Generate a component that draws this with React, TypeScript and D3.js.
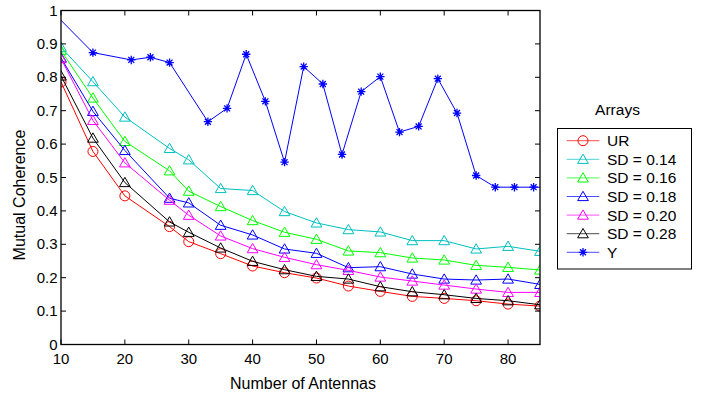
import React from 'react';
import * as d3 from 'd3';

// antenna counts used by the SD / UR arrays
const antennas = [10, 15, 20, 27, 30, 35, 40, 45, 50, 55, 60, 65, 70, 75, 80, 85];

const urValues = [0.786, 0.578, 0.445, 0.353, 0.308, 0.272, 0.235, 0.215, 0.199, 0.175, 0.159, 0.144, 0.138, 0.131, 0.121, 0.115];
const sd14Values = [0.89, 0.787, 0.681, 0.587, 0.553, 0.467, 0.461, 0.398, 0.364, 0.344, 0.337, 0.311, 0.311, 0.286, 0.294, 0.279];
const sd16Values = [0.88, 0.738, 0.608, 0.52, 0.459, 0.413, 0.371, 0.336, 0.315, 0.28, 0.275, 0.259, 0.253, 0.237, 0.231, 0.223];
const sd18Values = [0.858, 0.698, 0.581, 0.438, 0.424, 0.357, 0.328, 0.286, 0.273, 0.23, 0.233, 0.211, 0.196, 0.193, 0.196, 0.18];
const sd20Values = [0.856, 0.671, 0.544, 0.432, 0.387, 0.325, 0.287, 0.261, 0.239, 0.222, 0.202, 0.19, 0.178, 0.166, 0.156, 0.156];
const sd28Values = [0.804, 0.618, 0.485, 0.367, 0.336, 0.289, 0.249, 0.224, 0.204, 0.196, 0.173, 0.158, 0.149, 0.138, 0.131, 0.119];

// Y array has its own antenna counts (first / last points fall outside the axes)
const yAntennas = [9, 15, 21, 24, 27, 33, 36, 39, 42, 45, 48, 51, 54, 57, 60, 63, 66, 69, 72, 75, 78, 81, 84, 87];
const yValues = [0.99, 0.874, 0.852, 0.86, 0.844, 0.667, 0.707, 0.869, 0.728, 0.546, 0.832, 0.78, 0.569, 0.757, 0.802, 0.636, 0.653, 0.796, 0.693, 0.506, 0.471, 0.471, 0.471, 0.471];

const xTicks = [10, 20, 30, 40, 50, 60, 70, 80];
const yTicks = [0, 0.1, 0.2, 0.3, 0.4, 0.5, 0.6, 0.7, 0.8, 0.9, 1];

type Series = { name: string; color: string; marker: 'circle' | 'triangle' | 'star'; xs: number[]; ys: number[] };

const series: Series[] = [
  { name: 'UR', color: '#ff0000', marker: 'circle', xs: antennas, ys: urValues },
  { name: 'SD = 0.14', color: '#00bfbf', marker: 'triangle', xs: antennas, ys: sd14Values },
  { name: 'SD = 0.16', color: '#00ff00', marker: 'triangle', xs: antennas, ys: sd16Values },
  { name: 'SD = 0.18', color: '#0000ff', marker: 'triangle', xs: antennas, ys: sd18Values },
  { name: 'SD = 0.20', color: '#ff00ff', marker: 'triangle', xs: antennas, ys: sd20Values },
  { name: 'SD = 0.28', color: '#000000', marker: 'triangle', xs: antennas, ys: sd28Values },
  { name: 'Y', color: '#0000ff', marker: 'star', xs: yAntennas, ys: yValues },
];

const W = 707;
const H = 396;
const left = 61;
const right = 540;
const top = 10.5;
const bottom = 344.5;
const font = '"Liberation Sans", Arial, Helvetica, sans-serif';

const Marker = ({ type, color, x, y }: { type: string; color: string; x: number; y: number }) => {
  if (type === 'circle') {
    return <circle cx={x} cy={y} r={5} fill="none" stroke={color} strokeWidth={1} />;
  }
  if (type === 'triangle') {
    const tri = d3.symbol().type(d3.symbolTriangle).size(50)();
    return <path d={tri || ''} transform={`translate(${x},${y + 1})`} fill="none" stroke={color} strokeWidth={1} />;
  }
  const r = 4.2;
  const d = [0, 45, 90, 135]
    .map(a => {
      const rad = (a * Math.PI) / 180;
      const dx = Math.cos(rad) * r;
      const dy = Math.sin(rad) * r;
      return `M${x - dx},${y - dy}L${x + dx},${y + dy}`;
    })
    .join('');
  return <path d={d} stroke={color} strokeWidth={1.3} fill="none" />;
};

export default function App() {
  const x = d3.scaleLinear().domain([10, 85]).range([left, right]);
  const y = d3.scaleLinear().domain([0, 1]).range([bottom, top]);
  const line = d3.line<[number, number]>().x(d => x(d[0])).y(d => y(d[1]));

  const legendX = 557.5;
  const legendY = 128.5;
  const rowH = 18.6;

  return (
    <svg width={W} height={H} style={{ position: 'absolute', left: 0, top: 0, background: '#fff' }} fontFamily={font}>
      <defs>
        <clipPath id="plotClip">
          <rect x={left} y={top} width={right - left} height={bottom - top} />
        </clipPath>
      </defs>

      {/* series */}
      <g clipPath="url(#plotClip)">
        {series.map(s => {
          const pts = s.xs.map((v, i) => [v, s.ys[i]] as [number, number]);
          return (
            <g key={s.name}>
              <path d={line(pts) || ''} fill="none" stroke={s.color} strokeWidth={1} />
              {pts.map((p, i) => (
                <Marker key={i} type={s.marker} color={s.color} x={x(p[0])} y={y(p[1])} />
              ))}
            </g>
          );
        })}
      </g>

      {/* frame and ticks */}
      <rect x={left} y={top} width={right - left} height={bottom - top} fill="none" stroke="#000" strokeWidth={1.3} />
      {xTicks.map(t => (
        <g key={'x' + t}>
          <line x1={x(t)} x2={x(t)} y1={bottom} y2={bottom - 5} stroke="#000" />
          <line x1={x(t)} x2={x(t)} y1={top} y2={top + 5} stroke="#000" />
          <text x={x(t)} y={363.5} fontSize={15} textAnchor="middle" fill="#000">{t}</text>
        </g>
      ))}
      {yTicks.map(t => (
        <g key={'y' + t}>
          <line x1={left} x2={left + 5} y1={y(t)} y2={y(t)} stroke="#000" />
          <line x1={right} x2={right - 5} y1={y(t)} y2={y(t)} stroke="#000" />
          <text x={57.5} y={y(t) + 5} fontSize={15} textAnchor="end" fill="#000">{d3.format('~g')(t)}</text>
        </g>
      ))}

      <text x={303} y={389} fontSize={16} textAnchor="middle" fill="#000">Number of Antennas</text>
      <text transform={`translate(25,195) rotate(-90)`} fontSize={16} textAnchor="middle" fill="#000">Mutual Coherence</text>

      {/* legend */}
      <text x={617.5} y={115} fontSize={15.5} textAnchor="middle" fill="#000">Arrays</text>
      <rect x={legendX} y={legendY} width={134} height={140.5} fill="#fff" stroke="#000" strokeWidth={1} />
      {series.map((s, i) => {
        const cy = 140.7 + i * rowH;
        return (
          <g key={'leg' + s.name}>
            <line x1={566.7} x2={599.3} y1={cy} y2={cy} stroke={s.color} strokeWidth={1} strokeOpacity={0.7} />
            <Marker type={s.marker} color={s.color} x={583} y={cy} />
            <text x={607} y={cy + 5.5} fontSize={15.5} fill="#000">{s.name}</text>
          </g>
        );
      })}
    </svg>
  );
}
